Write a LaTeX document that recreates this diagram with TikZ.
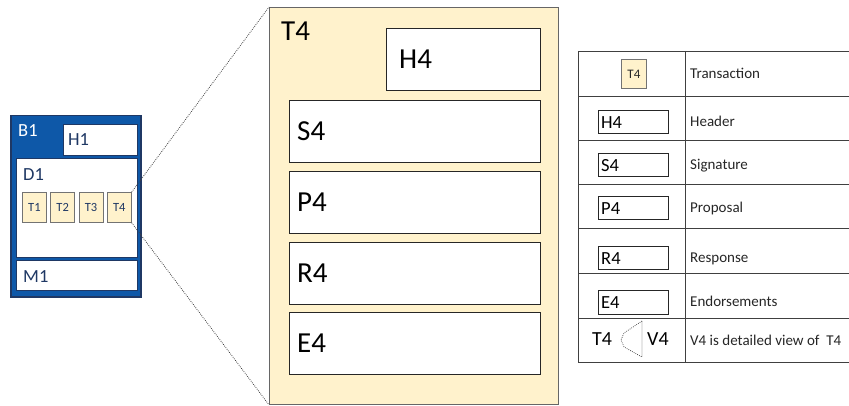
\documentclass[tikz,border=0pt]{standalone}
\usepackage{fontspec}
\setmainfont{Carlito}
\definecolor{txyellow}{HTML}{FFF2CC}
\definecolor{blockblue}{RGB}{14,88,168}
\definecolor{navy}{HTML}{1F3864}

\begin{document}
\begin{tikzpicture}[x=1pt,y=-1pt,
    blk/.style={draw=navy, fill=white, line width=1pt, inner sep=0pt, anchor=north west},
    part/.style={draw=black!85, fill=white, line width=0.9pt, inner sep=0pt, anchor=north west},
    tbox/.style={draw=black!55, fill=txyellow, line width=0.8pt, inner sep=0pt, anchor=north west,
        minimum width=24pt, minimum height=30pt, text=navy, font=\fontsize{12.5}{12.5}\selectfont},
    lbl/.style={anchor=base west, inner sep=0pt},
    big/.style={font=\fontsize{29}{29}\selectfont},
    mid/.style={font=\fontsize{18.5}{18.5}\selectfont},
    desc/.style={anchor=base west, inner sep=0pt, text=black!85, font=\fontsize{15}{15}\selectfont},
    dots/.style={black!75, line width=0.8pt, dash pattern=on 0.8pt off 1.2pt},
    rule/.style={draw=black!75, line width=0.9pt}]
\useasboundingbox (0,0) rectangle (849,406);

            % block
            \node[draw=navy, fill=blockblue, line width=1.5pt, inner sep=0pt, anchor=north west,
                minimum width=130pt, minimum height=181pt] (B1) at (10,115) {};
            \node[lbl, mid, text=white] (B1-l) at (18,137) {B1};
            \node[blk, minimum width=74pt, minimum height=31pt] (H1) at (63,124) {};
            \node[lbl, mid, text=navy] (H1-l) at (68,146) {H1};
            \node[blk, minimum width=121pt, minimum height=99pt] (D1) at (16,158) {};
            \node[lbl, mid, text=navy] (D1-l) at (23,181) {D1};
            \node[blk, minimum width=121pt, minimum height=30pt] (M1) at (16,260) {};
            \node[lbl, mid, text=navy] (M1-l) at (23,283) {M1};
             %transactions
                 \foreach \i in {1,...,4}
                     \node[tbox] (T\i) at ({22+(\i-1)*28.3},192) {T\i};

            % detailed view
            \node[draw=black!60, fill=txyellow, line width=0.9pt, inner sep=0pt, anchor=north west,
                minimum width=289pt, minimum height=397pt] (V4) at (269,7) {};
            \node[lbl, big] (V4-l) at (281,41) {T4};
            \node[part, minimum width=154pt, minimum height=62pt] (H4) at (386,28) {};
            \node[anchor=west, inner sep=0pt, big] (H4-l) at ([xshift=13pt]H4.west) {H4};
                 \foreach \n/\y in {S4/100,P4/171,R4/242,E4/312} {
                     \node[part, minimum width=251pt, minimum height=62pt] (\n) at (289,\y) {};
                     \node[anchor=west, inner sep=0pt, big] (\n-l) at ([xshift=8pt]\n.west) {\n};
                 }

            \draw[dots] (T4.north east) -- (V4.north west);
            \draw[dots] (T4.south east) -- (V4.south west);

            % legend
                 \foreach \y in {51,96,140,184,228,273,318,362}
                     \draw[rule] (578,\y) -- (849,\y);
            \draw[rule] (578,51) -- (578,362);
            \draw[rule] (685,51) -- (685,362);
            \node[tbox, minimum width=25pt, minimum height=29pt, text=black!85,
                font=\fontsize{13}{13}\selectfont] (lgT4) at (621,59) {T4};
                 \foreach \n/\y in {H4/110,S4/153,P4/196,R4/246,E4/290} {
                     \node[part, line width=0.8pt, minimum width=70pt, minimum height=23.5pt] (lg\n) at (598,\y) {};
                     \node[anchor=west, inner sep=0pt, mid] (lg\n-l) at ([xshift=3pt]lg\n.west) {\n};
                 }
            \node[lbl, font=\fontsize{20}{20}\selectfont] (lgT4-v) at (592,345) {T4};
            \node[lbl, font=\fontsize{20}{20}\selectfont] (lgV4) at (647,345) {V4};
            \draw[dots, line width=0.7pt] (642,321) -- (624,333) -- (621,340) -- (624,347) -- (642,357) -- cycle;

            \node[desc] (d1) at (690,78.5) {Transaction};
            \node[desc] (d2) at (690,126.5) {Header};
            \node[desc] (d3) at (690,170) {Signature};
            \node[desc] (d4) at (690,213) {Proposal};
            \node[desc] (d5) at (690,262.5) {Response};
            \node[desc] (d6) at (690,306.5) {Endorsements};
            \node[desc] (d7) at (690,345) {V4 is detailed view of\ \ T4};
\end{tikzpicture}
\end{document}
